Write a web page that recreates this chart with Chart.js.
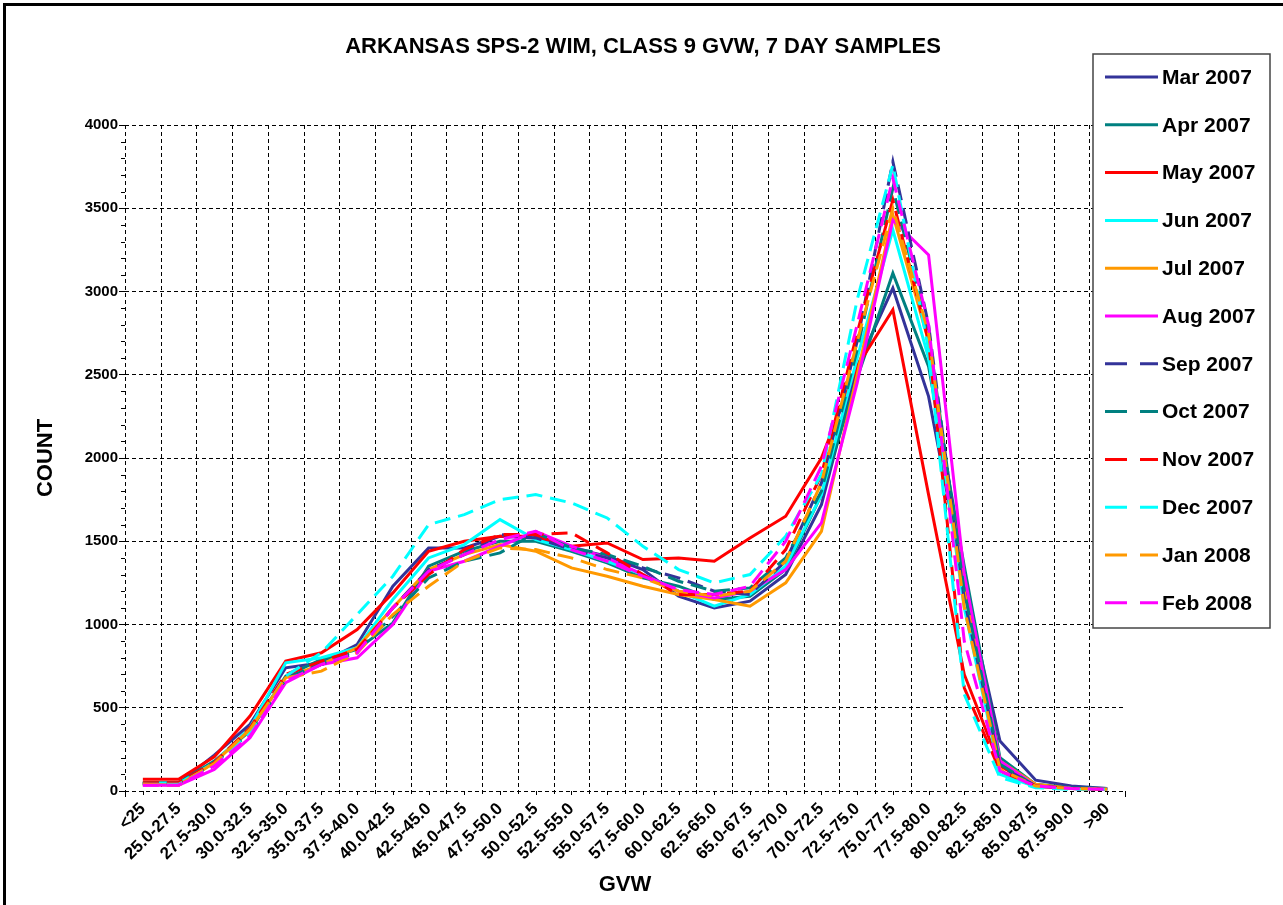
<!DOCTYPE html>
<html>
<head>
<meta charset="utf-8">
<script src="https://cdn.jsdelivr.net/npm/chart.js@4.4.1/dist/chart.umd.min.js"></script>
<style>
html, body { margin: 0; padding: 0; background: #fff; }
#wrap { position: relative; width: 1283px; height: 905px; overflow: hidden; }
#frame { position: absolute; left: 3px; top: 3px; width: 1290px; height: 910px; border-left: 3px solid #000; border-top: 3px solid #000; pointer-events: none; }
canvas { position: absolute; left: 0; top: 0; }
</style>
</head>
<body>
<div id="wrap">
    <canvas id="gvwChart" width="1283" height="905"></canvas>
    <div id="frame"></div>
</div>
<script>
const categories = ["<25", "25.0-27.5", "27.5-30.0", "30.0-32.5", "32.5-35.0", "35.0-37.5", "37.5-40.0",
    "40.0-42.5", "42.5-45.0", "45.0-47.5", "47.5-50.0", "50.0-52.5", "52.5-55.0", "55.0-57.5",
    "57.5-60.0", "60.0-62.5", "62.5-65.0", "65.0-67.5", "67.5-70.0", "70.0-72.5", "72.5-75.0",
    "75.0-77.5", "77.5-80.0", "80.0-82.5", "82.5-85.0", "85.0-87.5", "87.5-90.0", ">90"];

const seriesNames = ["Mar 2007", "Apr 2007", "May 2007", "Jun 2007", "Jul 2007", "Aug 2007",
    "Sep 2007", "Oct 2007", "Nov 2007", "Dec 2007", "Jan 2008", "Feb 2008"];

const mar2007 = [45, 45, 215, 400, 740, 770, 880, 1230, 1460, 1460, 1530, 1520, 1460, 1410, 1330, 1170, 1100, 1140, 1300, 1720, 2550, 3020, 2370, 1250, 300, 65, 30, 15];
const apr2007 = [50, 50, 180, 360, 690, 790, 850, 1010, 1350, 1440, 1500, 1500, 1440, 1370, 1280, 1230, 1150, 1170, 1330, 1780, 2480, 3110, 2550, 1350, 200, 40, 20, 15];
const may2007 = [70, 70, 205, 450, 780, 830, 970, 1190, 1440, 1500, 1530, 1530, 1470, 1490, 1390, 1400, 1380, 1520, 1650, 2000, 2550, 2890, 1780, 700, 150, 30, 15, 10];
const jun2007 = [45, 45, 170, 380, 770, 800, 860, 1150, 1400, 1480, 1630, 1510, 1450, 1380, 1300, 1200, 1110, 1180, 1350, 1780, 2600, 3370, 2600, 1100, 100, 25, 15, 10];
const jul2007 = [40, 35, 170, 370, 680, 760, 860, 1100, 1330, 1420, 1480, 1440, 1340, 1290, 1230, 1180, 1150, 1110, 1250, 1560, 2500, 3460, 2700, 1200, 180, 40, 15, 10];
const aug2007 = [35, 35, 130, 320, 650, 760, 800, 1000, 1320, 1380, 1470, 1560, 1470, 1400, 1300, 1200, 1160, 1200, 1330, 1610, 2450, 3430, 3220, 1300, 180, 30, 15, 10];
const sep2007 = [45, 45, 170, 360, 680, 760, 830, 1100, 1330, 1420, 1540, 1520, 1450, 1400, 1340, 1280, 1200, 1180, 1380, 1850, 2700, 3780, 2800, 1150, 150, 30, 15, 10];
const oct2007 = [50, 50, 165, 350, 670, 770, 840, 1050, 1280, 1380, 1430, 1550, 1460, 1420, 1350, 1260, 1200, 1220, 1400, 1800, 2650, 3620, 2750, 1200, 160, 30, 15, 10];
const nov2007 = [50, 50, 170, 380, 700, 780, 850, 1100, 1300, 1450, 1540, 1540, 1550, 1430, 1300, 1180, 1180, 1200, 1450, 1900, 2750, 3550, 2700, 620, 120, 30, 15, 10];
const dec2007 = [40, 40, 160, 350, 690, 830, 1060, 1290, 1600, 1660, 1750, 1780, 1730, 1640, 1470, 1330, 1250, 1300, 1530, 1900, 2950, 3760, 2650, 580, 80, 20, 10, 10];
const jan2008 = [40, 35, 165, 370, 680, 720, 830, 1060, 1230, 1380, 1460, 1450, 1400, 1330, 1280, 1200, 1170, 1200, 1380, 1850, 2700, 3500, 2750, 1100, 130, 30, 15, 10];
const feb2008 = [35, 35, 150, 330, 660, 760, 830, 1100, 1320, 1420, 1510, 1560, 1450, 1380, 1290, 1210, 1180, 1230, 1500, 1950, 2800, 3680, 2800, 900, 120, 30, 15, 10];

const seriesValues = [mar2007, apr2007, may2007, jun2007, jul2007, aug2007,
    sep2007, oct2007, nov2007, dec2007, jan2008, feb2008];

const yTicks = [0, 500, 1000, 1500, 2000, 2500, 3000, 3500, 4000];

const chartTitle = "ARKANSAS SPS-2 WIM, CLASS 9 GVW, 7 DAY SAMPLES";

const palette = ["#333399", "#008080", "#FF0000", "#00FFFF", "#FF9900", "#FF00FF"];
const FONT = "'Liberation Sans', Arial, sans-serif";
const DASH = [16, 8];

const datasets = seriesNames.map((name, i) => ({
    label: name,
    data: seriesValues[i],
    borderColor: palette[i % 6],
    backgroundColor: palette[i % 6],
    borderWidth: 3,
    borderDash: i >= 6 ? DASH : [],
    pointRadius: 0,
    tension: 0,
    fill: false,
    order: 12 - i
}));

// grid lines between categories, dashed axis line, small tick marks
const axisExtras = {
    id: "axisExtras",
    beforeDatasetsDraw(chart) {
        const { ctx, chartArea } = chart;
        const xs = chart.scales.x;
        const ys = chart.scales.y;
        const step = xs.getPixelForValue(1) - xs.getPixelForValue(0);
        ctx.save();
        ctx.strokeStyle = "#000";
        ctx.lineWidth = 1;
        ctx.setLineDash([4, 3]);
        for (let i = 1; i < categories.length; i++) {
            const x = Math.round(xs.getPixelForValue(i) - step / 2) + 0.5;
            ctx.beginPath();
            ctx.moveTo(x, chartArea.top);
            ctx.lineTo(x, chartArea.bottom + 6);
            ctx.stroke();
        }
        const lx = Math.round(chartArea.left) + 0.5;
        ctx.beginPath();
        ctx.moveTo(lx, chartArea.top);
        ctx.lineTo(lx, chartArea.bottom);
        ctx.stroke();
        ctx.setLineDash([]);
        [chartArea.left, chartArea.right].forEach(x => {
            ctx.beginPath();
            ctx.moveTo(Math.round(x) + 0.5, chartArea.bottom);
            ctx.lineTo(Math.round(x) + 0.5, chartArea.bottom + 6);
            ctx.stroke();
        });
        for (let i = 0; i < categories.length; i++) {
            const x = Math.round(xs.getPixelForValue(i)) + 0.5;
            ctx.beginPath();
            ctx.moveTo(x, chartArea.bottom);
            ctx.lineTo(x, chartArea.bottom + 4);
            ctx.stroke();
        }
        for (let v = 100; v < 4000; v += 100) {
            if (v % 500 === 0) continue;
            const y = Math.round(ys.getPixelForValue(v)) + 0.5;
            ctx.beginPath();
            ctx.moveTo(chartArea.left - 4, y);
            ctx.lineTo(chartArea.left, y);
            ctx.stroke();
        }
        ctx.restore();
    }
};

// title centred on the whole picture + boxed legend over the plot
const titleAndLegend = {
    id: "titleAndLegend",
    afterDraw(chart) {
        const { ctx } = chart;
        ctx.save();
        ctx.fillStyle = "#000";
        ctx.font = "bold 22px " + FONT;
        ctx.textAlign = "center";
        ctx.textBaseline = "middle";
        ctx.fillText(chartTitle, 643, 47);

        const bx = 1093, by = 54, bw = 177, bh = 574;
        ctx.fillStyle = "#fff";
        ctx.fillRect(bx, by, bw, bh);
        ctx.strokeStyle = "#444";
        ctx.lineWidth = 1.5;
        ctx.strokeRect(bx, by, bw, bh);
        ctx.font = "bold 21px " + FONT;
        ctx.textAlign = "left";
        chart.data.datasets.forEach((ds, i) => {
            const y = 77 + i * 47.8;
            ctx.strokeStyle = ds.borderColor;
            ctx.lineWidth = 3;
            ctx.setLineDash(ds.borderDash.length ? [22, 13] : []);
            ctx.beginPath();
            ctx.moveTo(1105, y);
            ctx.lineTo(1158, y);
            ctx.stroke();
            ctx.setLineDash([]);
            ctx.fillStyle = "#000";
            ctx.fillText(ds.label, 1162, y + 1);
        });
        ctx.restore();
    }
};

new Chart(document.getElementById("gvwChart"), {
    type: "line",
    data: { labels: categories, datasets: datasets },
    options: {
        responsive: false,
        animation: false,
        devicePixelRatio: 1,
        layout: { padding: { left: 0, top: 125, right: 158, bottom: 0 } },
        plugins: {
            legend: { display: false },
            tooltip: { enabled: false },
            title: { display: false }
        },
        scales: {
            x: {
                offset: true,
                grid: { display: false, drawTicks: true, tickLength: 6 },
                border: { display: false },
                ticks: {
                    autoSkip: false,
                    minRotation: 45,
                    maxRotation: 45,
                    padding: 2,
                    color: "#000",
                    font: { family: FONT, size: 17, weight: "bold" }
                },
                title: {
                    display: true,
                    text: "GVW",
                    color: "#000",
                    font: { family: FONT, size: 22, weight: "bold", lineHeight: 1.2 },
                    padding: { top: 0, bottom: 7 }
                },
                afterFit(scale) { scale.height = 114; }
            },
            y: {
                min: 0,
                max: 4000,
                afterBuildTicks(scale) { scale.ticks = yTicks.map(v => ({ value: v })); },
                grid: { color: "#000", lineWidth: 1, drawTicks: true, tickLength: 6, tickColor: "#000", tickBorderDash: [] },
                border: { display: false, dash: [4, 3] },
                ticks: {
                    padding: 1,
                    color: "#000",
                    font: { family: FONT, size: 15, weight: "bold" },
                    callback: v => String(v)
                },
                title: {
                    display: true,
                    text: "COUNT",
                    color: "#000",
                    font: { family: FONT, size: 22, weight: "bold", lineHeight: 1.2 },
                    padding: { top: 33, bottom: 0 }
                },
                afterFit(scale) { scale.width = 125; }
            }
        }
    },
    plugins: [axisExtras, titleAndLegend]
});
</script>
</body>
</html>
